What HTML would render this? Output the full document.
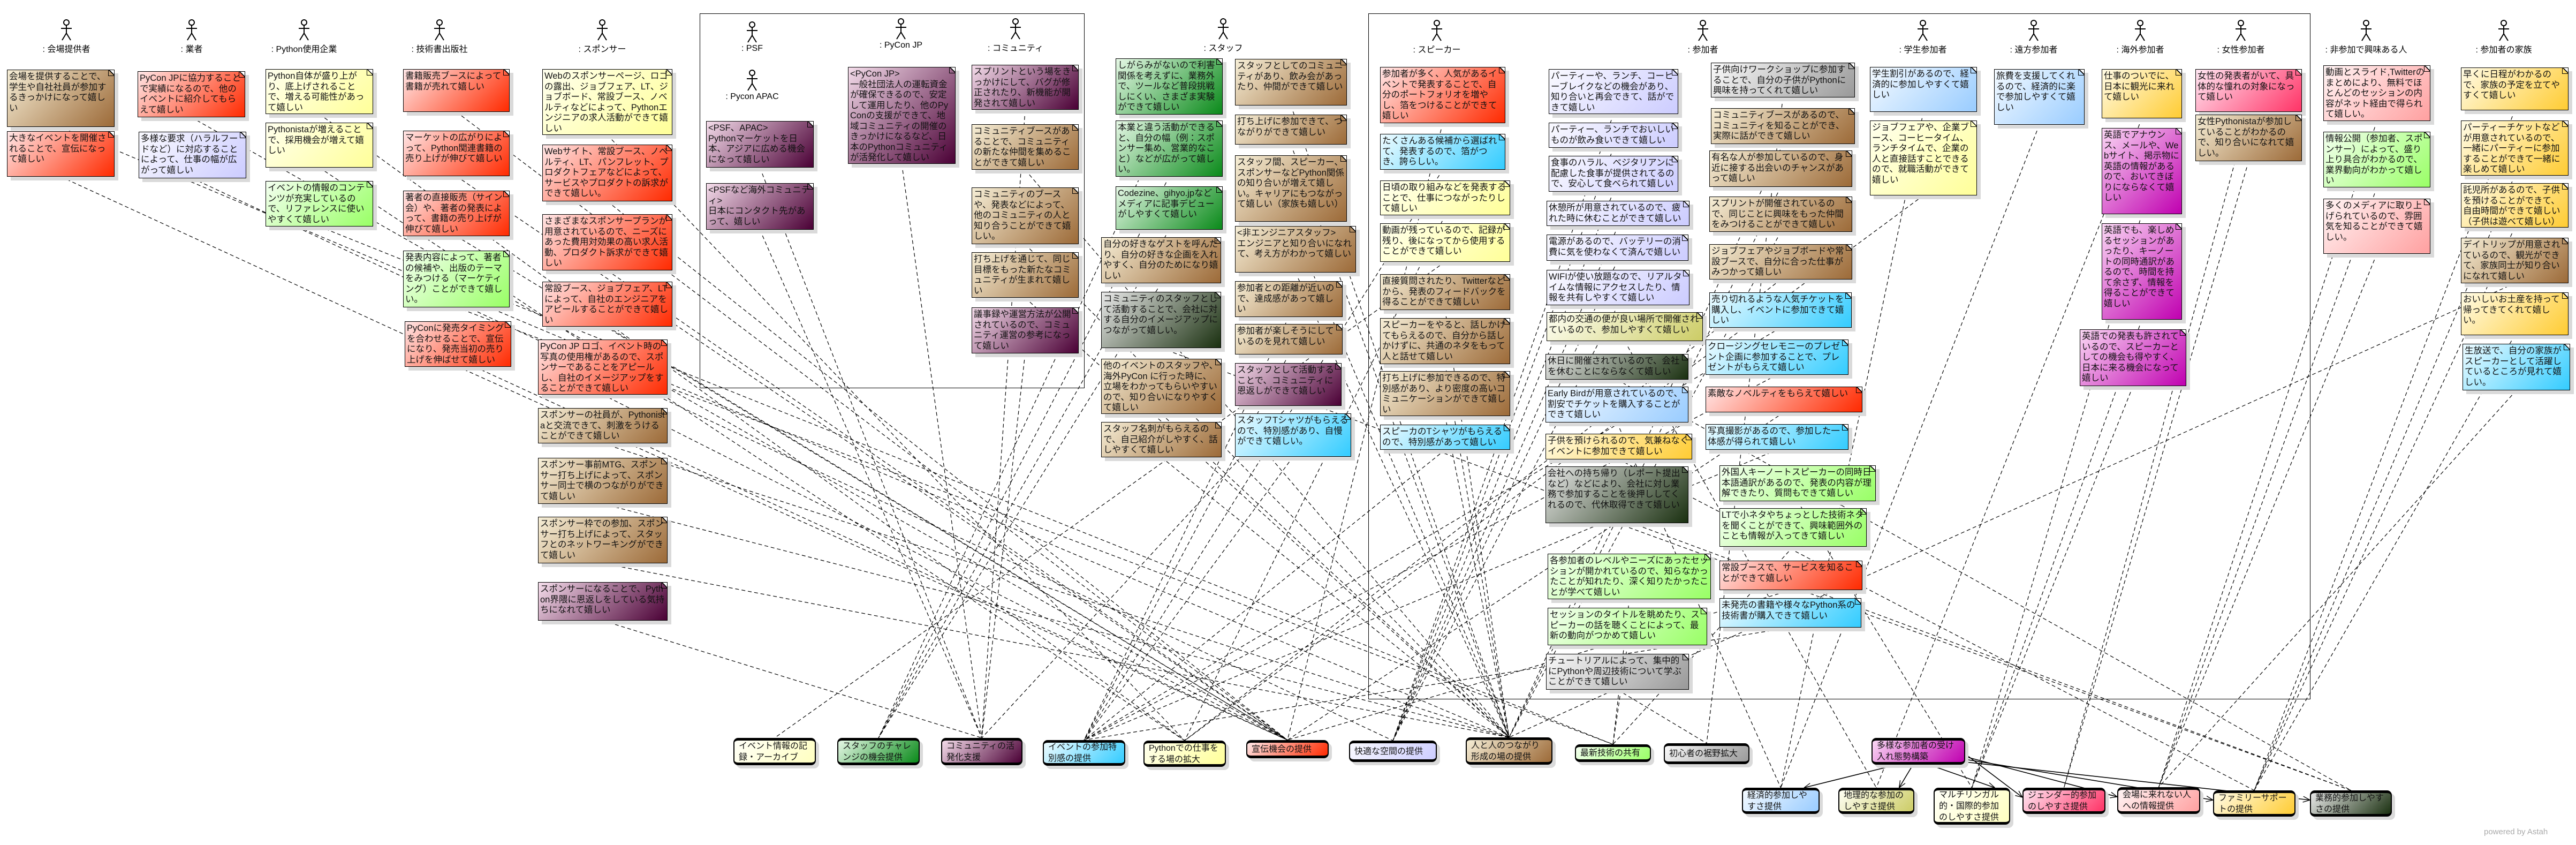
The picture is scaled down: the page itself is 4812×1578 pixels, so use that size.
<!DOCTYPE html>
<html><head><meta charset="utf-8">
<style>
body{margin:0;background:#fff;}
#c{position:relative;width:4812px;height:1578px;overflow:hidden;background:#fff;font-family:"Liberation Sans","Noto Sans CJK JP",sans-serif;}
.n{position:absolute;box-sizing:border-box;border:1.5px solid #000;padding:3px 3px;font-size:16.5px;line-height:19.5px;color:#111;box-shadow:7px 7px 0 #dadada;z-index:2;word-break:break-all;overflow:hidden;}
.n::after{content:"";position:absolute;top:-2px;right:-2px;width:12px;height:12px;background:linear-gradient(225deg,#fff 50%,#000 50%,#000 calc(50% + 1.5px),transparent calc(50% + 1.5px));border-left:1.5px solid #000;border-bottom:1.5px solid #000;}
.u{position:absolute;box-sizing:border-box;border:2px solid #000;border-top-width:5px;border-bottom-width:5px;border-radius:9px;padding:3px 8px;font-size:16px;line-height:21px;color:#111;box-shadow:6px 6px 0 #dadada;display:flex;align-items:center;z-index:2;}
.fr{position:absolute;border:1.5px solid #000;box-sizing:border-box;z-index:0;}
.a{position:absolute;z-index:2;text-align:center;font-size:16px;width:200px;}
.a svg{display:block;margin:0 auto;}
.brown{background:linear-gradient(135deg,#f6eed6,#9c6a38);}
.red{background:linear-gradient(135deg,#ffe6e6,#ff2a00);}
.yel{background:linear-gradient(135deg,#ffffee,#ffff99);}
.grn{background:linear-gradient(135deg,#f4fff0,#99ff66);}
.lav{background:linear-gradient(135deg,#fafaff,#ccccff);}
.pur{background:linear-gradient(135deg,#f4dcea,#4a0035);}
.sg{background:linear-gradient(135deg,#e6f8e6,#0a8a1a);}
.cya{background:linear-gradient(135deg,#eefbff,#33ccff);}
.lb{background:linear-gradient(135deg,#f4faff,#99ccff);}
.ora{background:linear-gradient(135deg,#fffbe6,#ffcc33);}
.mag{background:linear-gradient(135deg,#fad8f4,#c000b0);}
.pnk{background:linear-gradient(135deg,#ffe6f2,#ff3366);}
.lp{background:linear-gradient(135deg,#fff4f4,#ffa0a0);}
.dg{background:linear-gradient(135deg,#e8e8e8,#1a3010);}
.gry{background:linear-gradient(135deg,#fafafa,#999999);}
.olv{background:linear-gradient(135deg,#fffff4,#cccc66);}
.ly{background:linear-gradient(135deg,#fffff8,#ffffc0);}
#lines{position:absolute;left:0;top:0;z-index:1;}
</style></head><body><div id="c">

<div class="fr" style="left:1307px;top:25px;width:719px;height:700px"></div>
<div class="fr" style="left:2556px;top:25px;width:1760px;height:1281px"></div>

<svg id="lines" width="4812" height="1578"></svg>

<div class="a" style="left:24px;top:36px"><svg width="40" height="42"><g stroke="#000" stroke-width="2" fill="#fff"><circle cx="20" cy="6" r="5"/><path d="M20 11V26M10 17H30M20 26L12 39M20 26L28 39" fill="none"/></g></svg>: 会場提供者</div>
<div class="a" style="left:258px;top:36px"><svg width="40" height="42"><g stroke="#000" stroke-width="2" fill="#fff"><circle cx="20" cy="6" r="5"/><path d="M20 11V26M10 17H30M20 26L12 39M20 26L28 39" fill="none"/></g></svg>: 業者</div>
<div class="a" style="left:468px;top:36px"><svg width="40" height="42"><g stroke="#000" stroke-width="2" fill="#fff"><circle cx="20" cy="6" r="5"/><path d="M20 11V26M10 17H30M20 26L12 39M20 26L28 39" fill="none"/></g></svg>: Python使用企業</div>
<div class="a" style="left:721px;top:36px"><svg width="40" height="42"><g stroke="#000" stroke-width="2" fill="#fff"><circle cx="20" cy="6" r="5"/><path d="M20 11V26M10 17H30M20 26L12 39M20 26L28 39" fill="none"/></g></svg>: 技術書出版社</div>
<div class="a" style="left:1025px;top:36px"><svg width="40" height="42"><g stroke="#000" stroke-width="2" fill="#fff"><circle cx="20" cy="6" r="5"/><path d="M20 11V26M10 17H30M20 26L12 39M20 26L28 39" fill="none"/></g></svg>: スポンサー</div>
<div class="a" style="left:1305px;top:40px"><svg width="40" height="42"><g stroke="#000" stroke-width="2" fill="#fff"><circle cx="20" cy="6" r="5"/><path d="M20 11V26M10 17H30M20 26L12 39M20 26L28 39" fill="none"/></g></svg>: PSF</div>
<div class="a" style="left:1305px;top:130px"><svg width="40" height="42"><g stroke="#000" stroke-width="2" fill="#fff"><circle cx="20" cy="6" r="5"/><path d="M20 11V26M10 17H30M20 26L12 39M20 26L28 39" fill="none"/></g></svg>: Pycon APAC</div>
<div class="a" style="left:1583px;top:34px"><svg width="40" height="42"><g stroke="#000" stroke-width="2" fill="#fff"><circle cx="20" cy="6" r="5"/><path d="M20 11V26M10 17H30M20 26L12 39M20 26L28 39" fill="none"/></g></svg>: PyCon JP</div>
<div class="a" style="left:1797px;top:34px"><svg width="40" height="42"><g stroke="#000" stroke-width="2" fill="#fff"><circle cx="20" cy="6" r="5"/><path d="M20 11V26M10 17H30M20 26L12 39M20 26L28 39" fill="none"/></g></svg>: コミュニティ</div>
<div class="a" style="left:2185px;top:34px"><svg width="40" height="42"><g stroke="#000" stroke-width="2" fill="#fff"><circle cx="20" cy="6" r="5"/><path d="M20 11V26M10 17H30M20 26L12 39M20 26L28 39" fill="none"/></g></svg>: スタッフ</div>
<div class="a" style="left:2584px;top:37px"><svg width="40" height="42"><g stroke="#000" stroke-width="2" fill="#fff"><circle cx="20" cy="6" r="5"/><path d="M20 11V26M10 17H30M20 26L12 39M20 26L28 39" fill="none"/></g></svg>: スピーカー</div>
<div class="a" style="left:3081px;top:37px"><svg width="40" height="42"><g stroke="#000" stroke-width="2" fill="#fff"><circle cx="20" cy="6" r="5"/><path d="M20 11V26M10 17H30M20 26L12 39M20 26L28 39" fill="none"/></g></svg>: 参加者</div>
<div class="a" style="left:3492px;top:37px"><svg width="40" height="42"><g stroke="#000" stroke-width="2" fill="#fff"><circle cx="20" cy="6" r="5"/><path d="M20 11V26M10 17H30M20 26L12 39M20 26L28 39" fill="none"/></g></svg>: 学生参加者</div>
<div class="a" style="left:3699px;top:37px"><svg width="40" height="42"><g stroke="#000" stroke-width="2" fill="#fff"><circle cx="20" cy="6" r="5"/><path d="M20 11V26M10 17H30M20 26L12 39M20 26L28 39" fill="none"/></g></svg>: 遠方参加者</div>
<div class="a" style="left:3898px;top:37px"><svg width="40" height="42"><g stroke="#000" stroke-width="2" fill="#fff"><circle cx="20" cy="6" r="5"/><path d="M20 11V26M10 17H30M20 26L12 39M20 26L28 39" fill="none"/></g></svg>: 海外参加者</div>
<div class="a" style="left:4086px;top:37px"><svg width="40" height="42"><g stroke="#000" stroke-width="2" fill="#fff"><circle cx="20" cy="6" r="5"/><path d="M20 11V26M10 17H30M20 26L12 39M20 26L28 39" fill="none"/></g></svg>: 女性参加者</div>
<div class="a" style="left:4320px;top:37px"><svg width="40" height="42"><g stroke="#000" stroke-width="2" fill="#fff"><circle cx="20" cy="6" r="5"/><path d="M20 11V26M10 17H30M20 26L12 39M20 26L28 39" fill="none"/></g></svg>: 非参加で興味ある人</div>
<div class="a" style="left:4577px;top:37px"><svg width="40" height="42"><g stroke="#000" stroke-width="2" fill="#fff"><circle cx="20" cy="6" r="5"/><path d="M20 11V26M10 17H30M20 26L12 39M20 26L28 39" fill="none"/></g></svg>: 参加者の家族</div>

<div class="n brown tU8" style="left:13px;top:130px;width:201px;height:107px">会場を提供することで、学生や自社社員が参加するきっかけになって嬉しい</div>
<div class="n red tU6" style="left:13px;top:245px;width:201px;height:85px">大きなイベントを開催されることで、宣伝になって嬉しい</div>
<div class="n red tU6" style="left:257px;top:133px;width:201px;height:86px">PyCon JPに協力することで実績になるので、他のイベントに紹介してもらえて嬉しい</div>
<div class="n lav tU7" style="left:259px;top:246px;width:201px;height:87px">多様な要求（ハラルフードなど）に対応することによって、仕事の幅が広がって嬉しい</div>
<div class="n yel tU5" style="left:496px;top:129px;width:201px;height:84px">Python自体が盛り上がり、底上げされることで、増える可能性があって嬉しい</div>
<div class="n yel tU5" style="left:496px;top:229px;width:201px;height:84px">Pythonistaが増えることで、採用機会が増えて嬉しい</div>
<div class="n grn tU9" style="left:496px;top:338px;width:201px;height:85px">イベントの情報のコンテンツが充実しているので、リファレンスに使いやすくて嬉しい</div>
<div class="n red tU6" style="left:753px;top:129px;width:199px;height:80px">書籍販売ブースによって書籍が売れて嬉しい</div>
<div class="n red tU6" style="left:753px;top:244px;width:199px;height:85px">マーケットの広がりによって、Python関連書籍の売り上げが伸びて嬉しい</div>
<div class="n red tU6" style="left:753px;top:356px;width:199px;height:85px">著者の直接販売（サイン会）や、著者の発表によって、書籍の売り上げが伸びて嬉しい</div>
<div class="n grn tU9" style="left:753px;top:468px;width:199px;height:106px">発表内容によって、著者の候補や、出版のテーマをみつける（マーケティング）ことができて嬉しい。</div>
<div class="n red tU6" style="left:756px;top:600px;width:199px;height:85px">PyConに発売タイミングを合わせることで、宣伝になり、発売当初の売り上げを伸ばせて嬉しい</div>
<div class="n yel tU5" style="left:1013px;top:129px;width:243px;height:123px">Webのスポンサーページ、ロゴの露出、ジョブフェア、LT、ジョブボード、常設ブース、ノベルティなどによって、Pythonエンジニアの求人活動ができて嬉しい</div>
<div class="n red tU6" style="left:1013px;top:270px;width:243px;height:106px">Webサイト、常設ブース、ノベルティ、LT、パンフレット、プロダクトフェアなどによって、サービスやプロダクトの訴求ができて嬉しい。</div>
<div class="n red tU6" style="left:1013px;top:400px;width:243px;height:105px">さまざまなスポンサープランが用意されているので、ニーズにあった費用対効果の高い求人活動、プロダクト訴求ができて嬉しい</div>
<div class="n red tU6" style="left:1013px;top:526px;width:243px;height:84px">常設ブース、ジョブフェア、LTによって、自社のエンジニアをアピールすることができて嬉しい</div>
<div class="n red tU6" style="left:1005px;top:634px;width:242px;height:103px">PyCon JP ロゴ、イベント時の写真の使用権があるので、スポンサーであることをアピールし、自社のイメージアップをすることができて嬉しい</div>
<div class="n brown tU8" style="left:1005px;top:762px;width:242px;height:66px">スポンサーの社員が、Pythonistaと交流できて、刺激をうけることができて嬉しい</div>
<div class="n brown tU8" style="left:1005px;top:855px;width:242px;height:86px">スポンサー事前MTG、スポンサー打ち上げによって、スポンサー同士で横のつながりができて嬉しい</div>
<div class="n brown tU8" style="left:1005px;top:965px;width:242px;height:87px">スポンサー枠での参加、スポンサー打ち上げによって、スタッフとのネットワーキングができて嬉しい</div>
<div class="n pur tU3" style="left:1005px;top:1087px;width:242px;height:72px">スポンサーになることで、Python界隈に恩返しをしている気持ちになれて嬉しい</div>

<div class="n pur tU3" style="left:1319px;top:226px;width:201px;height:87px">&lt;PSF、APAC&gt;<br>Pythonマーケットを日本、アジアに広める機会になって嬉しい</div>
<div class="n pur tU3" style="left:1319px;top:342px;width:201px;height:87px">&lt;PSFなど海外コミュニティ&gt;<br>日本にコンタクト先があって、嬉しい</div>
<div class="n pur tU3" style="left:1584px;top:125px;width:201px;height:181px">&lt;PyCon JP&gt;<br>一般社団法人の運転資金が確保できるので、安定して運用したり、他のPyConの支援ができて、地域コミュニティの開催のきっかけになるなど、日本のPythonコミュニティが活発化して嬉しい</div>
<div class="n pur tU3" style="left:1815px;top:121px;width:200px;height:84px">スプリントという場をきっかけにして、バグが修正されたり、新機能が開発されて嬉しい</div>
<div class="n brown tU8" style="left:1815px;top:232px;width:200px;height:85px">コミュニティブースがあることで、コミュニティの新たな仲間を集めることができて嬉しい</div>
<div class="n brown tU8" style="left:1815px;top:350px;width:200px;height:106px">コミュニティのブースや、発表などによって、他のコミュニティの人と知り合うことができて嬉しい。</div>
<div class="n brown tU8" style="left:1815px;top:471px;width:200px;height:85px">打ち上げを通じて、同じ目標をもった新たなコミュニティが生まれて嬉しい</div>
<div class="n pur tU3" style="left:1815px;top:574px;width:200px;height:86px">議事録や運営方法が公開されているので、コミュニティ運営の参考になって嬉しい</div>

<div class="n sg tU2" style="left:2084px;top:109px;width:200px;height:105px">しがらみがないので利害関係を考えずに、業務外で、ツールなど普段挑戦しにくい、さまざま実験ができて嬉しい</div>
<div class="n sg tU2" style="left:2084px;top:225px;width:200px;height:105px">本業と違う活動ができると、自分の幅（例：スポンサー集め、営業的なこと）などが広がって嬉しい。</div>
<div class="n sg tU2" style="left:2084px;top:348px;width:200px;height:81px">Codezine、gihyo.jpなどメディアに記事デビューがしやすくて嬉しい</div>
<div class="n brown tU2" style="left:2057px;top:443px;width:224px;height:86px">自分の好きなゲストを呼んだり、自分の好きな企画を入れやすく、自分のためになり嬉しい</div>
<div class="n dg tR7" style="left:2057px;top:545px;width:224px;height:105px">コミュニティのスタッフとして活動することで、会社に対する自分のイメージアップにつながって嬉しい。</div>
<div class="n brown tU8" style="left:2057px;top:670px;width:225px;height:103px">他のイベントのスタッフや、海外PyCon に行った時に、立場をわかってもらいやすいので、知り合いになりやすくて嬉しい</div>
<div class="n brown tU8" style="left:2057px;top:788px;width:225px;height:66px">スタッフ名刺がもらえるので、自己紹介がしやすく、話しやすくて嬉しい</div>
<div class="n brown tU8" style="left:2307px;top:110px;width:209px;height:87px">スタッフとしてのコミュニティがあり、飲み会があったり、仲間ができて嬉しい</div>
<div class="n brown tU8" style="left:2307px;top:214px;width:209px;height:56px">打ち上げに参加できて、つながりができて嬉しい</div>
<div class="n brown tU8" style="left:2307px;top:290px;width:209px;height:124px">スタッフ間、スピーカー、スポンサーなどPython関係の知り合いが増えて嬉しい。キャリアにもつながって嬉しい（家族も嬉しい）</div>
<div class="n brown tU8" style="left:2307px;top:422px;width:226px;height:87px">&lt;非エンジニアスタッフ&gt;<br>エンジニアと知り合いになれて、考え方がわかって嬉しい</div>
<div class="n brown tU4" style="left:2307px;top:525px;width:201px;height:67px">参加者との距離が近いので、達成感があって嬉しい</div>
<div class="n brown tU4" style="left:2307px;top:605px;width:201px;height:57px">参加者が楽しそうにしているのを見れて嬉しい</div>
<div class="n pur tU3" style="left:2307px;top:678px;width:199px;height:80px">スタッフとして活動することで、コミュニティに恩返しができて嬉しい</div>
<div class="n cya tU4" style="left:2307px;top:772px;width:217px;height:81px">スタッフTシャツがもらえるので、特別感があり、自慢ができて嬉しい。</div>

<div class="n red tU6" style="left:2578px;top:125px;width:234px;height:105px">参加者が多く、人気があるイベントで発表することで、自分のポートフォリオを増やし、箔をつけることができて嬉しい</div>
<div class="n cya tU4" style="left:2578px;top:250px;width:234px;height:67px">たくさんある候補から選ばれて、発表するので、箔がつき、誇らしい。</div>
<div class="n yel tU5" style="left:2578px;top:337px;width:243px;height:65px">日頃の取り組みなどを発表することで、仕事につながったりして嬉しい</div>
<div class="n yel tU1" style="left:2578px;top:417px;width:243px;height:72px">動画が残っているので、記録が残り、後になってから使用することができて嬉しい</div>
<div class="n brown tU8" style="left:2578px;top:512px;width:243px;height:67px">直接質問されたり、Twitterなどから、発表のフィードバックを得ることができて嬉しい</div>
<div class="n brown tU8" style="left:2578px;top:594px;width:243px;height:86px">スピーカーをやると、話しかけてもらえるので、自分から話しかけずに、共通のネタをもって人と話せて嬉しい</div>
<div class="n brown tU8" style="left:2578px;top:693px;width:243px;height:84px">打ち上げに参加できるので、特別感があり、より密度の高いコミュニケーションができて嬉しい</div>
<div class="n cya tU4" style="left:2578px;top:793px;width:243px;height:47px">スピーカのTシャツがもらえるので、特別感があって嬉しい</div>

<div class="n lav tU7" style="left:2893px;top:129px;width:242px;height:84px">パーティーや、ランチ、コーヒーブレイクなどの機会があり、知り合いと再会できて、話ができて嬉しい</div>
<div class="n lav tU7" style="left:2893px;top:229px;width:242px;height:47px">パーティー、ランチでおいしいものが飲み食いできて嬉しい</div>
<div class="n lav tU7" style="left:2893px;top:291px;width:242px;height:67px">食事のハラル、ベジタリアンに配慮した食事が提供されてるので、安心して食べられて嬉しい</div>
<div class="n lav tU7" style="left:2889px;top:375px;width:267px;height:47px">休憩所が用意されているので、疲れた時に休むことができて嬉しい</div>
<div class="n lav tU7" style="left:2889px;top:438px;width:265px;height:49px">電源があるので、バッテリーの消費に気を使わなくて済んで嬉しい</div>
<div class="n lav tU7" style="left:2889px;top:504px;width:267px;height:66px">WIFIが使い放題なので、リアルタイムな情報にアクセスしたり、情報を共有しやすくて嬉しい</div>
<div class="n olv tR2" style="left:2889px;top:583px;width:292px;height:54px">都内の交通の便が良い場所で開催されているので、参加しやすくて嬉しい</div>
<div class="n dg tR7" style="left:2887px;top:661px;width:267px;height:48px">休日に開催されているので、会社を休むことにならなくて嬉しい</div>
<div class="n lb tR1" style="left:2887px;top:722px;width:267px;height:67px">Early Birdが用意されているので、割安でチケットを購入することができて嬉しい</div>
<div class="n ora tR6" style="left:2887px;top:810px;width:274px;height:48px">子供を預けられるので、気兼ねなくイベントに参加できて嬉しい</div>
<div class="n dg tR7" style="left:2887px;top:871px;width:267px;height:106px">会社への持ち帰り（レポート提出など）などにより、会社に対し業務で参加することを後押ししてくれるので、代休取得できて嬉しい</div>
<div class="n grn tU9" style="left:2891px;top:1034px;width:305px;height:85px">各参加者のレベルやニーズにあったセッションが開かれているので、知らなかったことが知れたり、深く知りたかったことが学べて嬉しい</div>
<div class="n grn tU9" style="left:2891px;top:1135px;width:298px;height:70px">セッションのタイトルを眺めたり、スピーカーの話を聴くことによって、最新の動向がつかめて嬉しい</div>
<div class="n gry tU10" style="left:2888px;top:1221px;width:267px;height:67px">チュートリアルによって、集中的にPythonや周辺技術について学ぶことができて嬉しい</div>

<div class="n gry tU10" style="left:3196px;top:117px;width:269px;height:65px">子供向けワークショップに参加することで、自分の子供がPythonに興味を持ってくれて嬉しい</div>
<div class="n brown tU8" style="left:3196px;top:202px;width:269px;height:67px">コミュニティブースがあるので、コミュニティを知ることができ、実際に話ができて嬉しい</div>
<div class="n brown tU8" style="left:3193px;top:281px;width:267px;height:68px">有名な人が参加しているので、身近に接する出会いのチャンスがあって嬉しい</div>
<div class="n brown tU8" style="left:3193px;top:367px;width:267px;height:66px">スプリントが開催されているので、同じことに興味をもった仲間をみつけることができて嬉しい</div>
<div class="n brown tU5" style="left:3193px;top:456px;width:267px;height:66px">ジョブフェアやジョブボードや常設ブースで、自分に合った仕事がみつかって嬉しい</div>
<div class="n cya tU4" style="left:3193px;top:546px;width:266px;height:66px">売り切れるような人気チケットを購入し、イベントに参加できて嬉しい</div>
<div class="n cya tU4" style="left:3186px;top:634px;width:267px;height:66px">クロージングセレモニーのプレゼント企画に参加することで、プレゼントがもらえて嬉しい</div>
<div class="n red tU6" style="left:3186px;top:722px;width:293px;height:48px">素敵なノベルティをもらえて嬉しい</div>
<div class="n cya tU4" style="left:3186px;top:792px;width:267px;height:48px">写真撮影があるので、参加した一体感が得られて嬉しい</div>
<div class="n grn tR3" style="left:3212px;top:869px;width:292px;height:67px">外国人キーノートスピーカーの同時日本語通訳があるので、発表の内容が理解できたり、質問もできて嬉しい</div>
<div class="n grn tU9" style="left:3212px;top:949px;width:275px;height:72px">LTで小ネタやちょっとした技術ネタを聞くことができて、興味範囲外のことも情報が入ってきて嬉しい</div>
<div class="n red tU6" style="left:3212px;top:1047px;width:267px;height:55px">常設ブースで、サービスを知ることができて嬉しい</div>
<div class="n cya tU4" style="left:3212px;top:1117px;width:265px;height:55px">未発売の書籍や様々なPython系の技術書が購入できて嬉しい</div>

<div class="n lb tR1" style="left:3493px;top:125px;width:200px;height:84px">学生割引があるので、経済的に参加しやすくて嬉しい</div>
<div class="n yel tU5" style="left:3493px;top:225px;width:200px;height:140px">ジョブフェアや、企業ブース、コーヒータイム、ランチタイムで、企業の人と直接話すことできるので、就職活動ができて嬉しい</div>
<div class="n lb tR1" style="left:3725px;top:129px;width:169px;height:104px">旅費を支援してくれるので、経済的に楽で参加しやすくて嬉しい</div>
<div class="n ora tR2" style="left:3926px;top:129px;width:150px;height:92px">仕事のついでに、日本に観光に来れて嬉しい</div>
<div class="n mag tR3" style="left:3926px;top:239px;width:150px;height:161px">英語でアナウンス、メールや、Webサイト、掲示物に英語の情報があるので、おいてきぼりにならなくて嬉しい</div>
<div class="n mag tR3" style="left:3926px;top:417px;width:150px;height:180px">英語でも、楽しめるセッションがあったり、キーノートの同時通訳があるので、時間を持て余さず、情報を得ることができて嬉しい</div>
<div class="n mag tR3" style="left:3885px;top:615px;width:199px;height:106px">英語での発表も許されているので、スピーカーとしての機会も得やすく、日本に来る機会になって嬉しい</div>
<div class="n pnk tR4" style="left:4101px;top:129px;width:199px;height:80px">女性の発表者がいて、具体的な憧れの対象になって嬉しい</div>
<div class="n brown tR4" style="left:4101px;top:214px;width:199px;height:87px">女性Pythonistaが参加していることがわかるので、知り合いになれて嬉しい。</div>
<div class="n lp tR5" style="left:4340px;top:122px;width:200px;height:104px">動画とスライド,Twitterのまとめにより、無料でほとんどのセッションの内容がネット経由で得られて嬉しい。</div>
<div class="n grn tR5" style="left:4340px;top:246px;width:200px;height:104px">情報公開（参加者、スポンサー）によって、盛り上り具合がわかるので、業界動向がわかって嬉しい</div>
<div class="n lp tR5" style="left:4340px;top:371px;width:200px;height:103px">多くのメディアに取り上げられているので、雰囲気を知ることができて嬉しい。</div>
<div class="n ora tR6" style="left:4597px;top:126px;width:201px;height:80px">早くに日程がわかるので、家族の予定を立てやすくて嬉しい</div>
<div class="n ora tR6" style="left:4597px;top:225px;width:201px;height:103px">パーティーチケットなどが用意されているので、一緒にパーティーに参加することができて一緒に楽しめて嬉しい</div>
<div class="n ora tR6" style="left:4597px;top:342px;width:201px;height:83px">託児所があるので、子供を預けることができて、自由時間ができて嬉しい（子供は遊べて嬉しい）</div>
<div class="n brown tU8" style="left:4597px;top:444px;width:201px;height:85px">デイトリップが用意されているので、観光ができて、家族同士が知り合いになれて嬉しい</div>
<div class="n ora tR6" style="left:4597px;top:546px;width:201px;height:80px">おいしいお土産を持って帰ってきてくれて嬉しい。</div>
<div class="n cya tR5" style="left:4600px;top:642px;width:201px;height:87px">生放送で、自分の家族がスピーカーとして活躍しているところが見れて嬉しい。</div>

<div class="u ly" id="U1" style="left:1370px;top:1378px;width:154px;height:51px">イベント情報の記録・アーカイブ</div>
<div class="u sg" id="U2" style="left:1564px;top:1378px;width:154px;height:51px">スタッフのチャレンジの機会提供</div>
<div class="u pur" id="U3" style="left:1758px;top:1378px;width:152px;height:51px">コミュニティの活発化支援</div>
<div class="u cya" id="U4" style="left:1948px;top:1382px;width:154px;height:48px">イベントの参加特別感の提供</div>
<div class="u yel" id="U5" style="left:2136px;top:1383px;width:154px;height:49px">Pythonでの仕事をする場の拡大</div>
<div class="u red" id="U6" style="left:2328px;top:1382px;width:154px;height:34px">宣伝機会の提供</div>
<div class="u lav" id="U7" style="left:2520px;top:1383px;width:164px;height:40px">快適な空間の提供</div>
<div class="u brown" id="U8" style="left:2738px;top:1377px;width:162px;height:51px">人と人のつながり形成の場の提供</div>
<div class="u grn" id="U9" style="left:2942px;top:1390px;width:142px;height:33px">最新技術の共有</div>
<div class="u gry" id="U10" style="left:3108px;top:1388px;width:160px;height:39px">初心者の裾野拡大</div>
<div class="u mag" id="U11" style="left:3496px;top:1378px;width:175px;height:50px">多様な参加者の受け入れ態勢構築</div>
<div class="u lb" id="R1" style="left:3254px;top:1471px;width:145px;height:49px">経済的参加しやすさ提供</div>
<div class="u olv" id="R2" style="left:3434px;top:1471px;width:142px;height:49px">地理的な参加のしやすさ提供</div>
<div class="u ly" id="R3" style="left:3612px;top:1471px;width:143px;height:69px">マルチリンガル的・国際的参加のしやすさ提供</div>
<div class="u pnk" id="R4" style="left:3778px;top:1471px;width:155px;height:49px">ジェンダー的参加のしやすさ提供</div>
<div class="u lp" id="R5" style="left:3955px;top:1470px;width:155px;height:50px">会場に来れない人への情報提供</div>
<div class="u ora" id="R6" style="left:4134px;top:1476px;width:154px;height:49px">ファミリーサポートの提供</div>
<div class="u dg" id="R7" style="left:4315px;top:1476px;width:153px;height:49px">業務的参加しやすさの提供</div>

<div style="position:absolute;left:4640px;top:1545px;font-size:15px;color:#aaa;">powered by Astah</div>
</div>
<script>
(function(){
var svg=document.getElementById('lines'),NS='http://www.w3.org/2000/svg';
function ln(x1,y1,x2,y2,dash,w){var l=document.createElementNS(NS,'line');l.setAttribute('x1',x1);l.setAttribute('y1',y1);l.setAttribute('x2',x2);l.setAttribute('y2',y2);l.setAttribute('stroke','#000');l.setAttribute('stroke-width',w||1.2);if(dash)l.setAttribute('stroke-dasharray',dash);svg.appendChild(l);}
var ns=document.querySelectorAll('.n');
for(var i=0;i<ns.length;i++){var n=ns[i],t=null;n.className.split(' ').forEach(function(c){if(c[0]=='t'&&c.length>1)t=c.slice(1);});
 var u=t&&document.getElementById(t);if(!u)continue;
 var x1=n.offsetLeft+n.offsetWidth/2,y1=n.offsetTop+n.offsetHeight;
 var x2=u.offsetLeft+u.offsetWidth/2,y2=u.offsetTop;
 ln(x1,y1,x2,y2,'7,5');}
var s=document.getElementById('U11');var sx=s.offsetLeft+s.offsetWidth/2,sy=s.offsetTop+s.offsetHeight;
['R1','R2','R3','R4','R5','R6','R7'].forEach(function(id,k){var r=document.getElementById(id);
 var x2=r.offsetLeft+(k<3?r.offsetWidth*0.8:0),y2=r.offsetTop+(k<3?0:18);
 var x1=k<3?sx-40+k*30:s.offsetLeft+s.offsetWidth,y1=k<3?sy:sy-20+(k-3)*5;
 ln(x1,y1,x2,y2,null,1.6);
 var a=Math.atan2(y2-y1,x2-x1),L=14;
 ln(x2,y2,x2-L*Math.cos(a-0.4),y2-L*Math.sin(a-0.4),null,1.3);
 ln(x2,y2,x2-L*Math.cos(a+0.4),y2-L*Math.sin(a+0.4),null,1.3);});
})();
</script>
</body></html>
